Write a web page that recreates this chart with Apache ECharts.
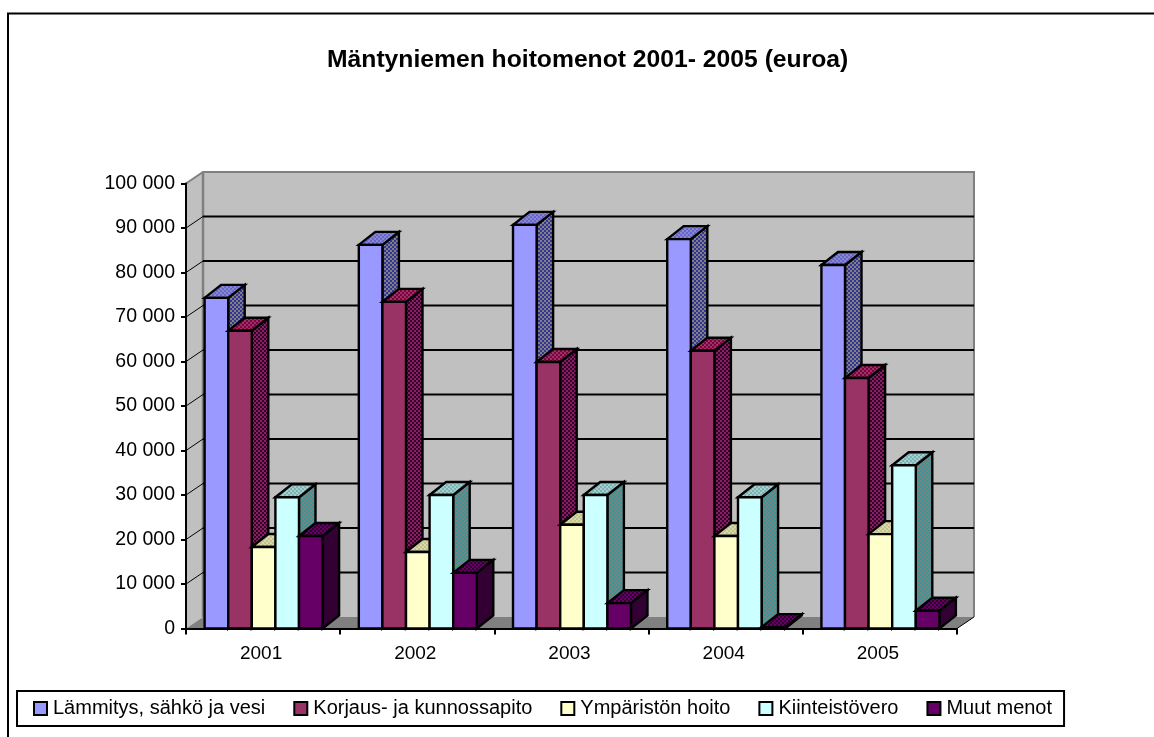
<!DOCTYPE html>
<html><head><meta charset="utf-8">
<style>html,body{margin:0;padding:0;background:#fff;overflow:hidden}#c{width:1154px;height:737px}</style>
<script src="https://cdn.jsdelivr.net/npm/echarts@6/dist/echarts.min.js"></script>
</head><body><div id="c"></div>
<script>
var years = ['2001','2002','2003','2004','2005'];
var lammitys = [74300,86200,90700,87500,81700];
var korjaus = [66900,73400,59900,62400,56300];
var ymparisto = [18300,17200,23300,20800,21200];
var kiinteisto = [29500,30000,30000,29500,36700];
var muut = [20800,12500,5700,300,4000];
var names = ['Lämmitys, sähkö ja vesi','Korjaus- ja kunnossapito','Ympäristön hoito','Kiinteistövero','Muut menot'];
var valueTicks = [10000,20000,30000,40000,50000,60000,70000,80000,90000];
var title = 'Mäntyniemen hoitomenot 2001- 2005 (euroa)';

var DX = 16.5, DY = -13, WDX = 17, WDY = -11.5;
var BAR = 0.153;
var font = '"Liberation Sans", Arial, sans-serif';

function checker(a, b, s) {
  var cv = document.createElement('canvas');
  cv.width = cv.height = 2 * s;
  var g = cv.getContext('2d');
  g.fillStyle = a; g.fillRect(0, 0, 2 * s, 2 * s);
  g.fillStyle = b; g.fillRect(0, 0, s, s); g.fillRect(s, s, s, s);
  return { image: cv, repeat: 'repeat' };
}
var palette = [
  { front: '#9999FF', top: checker('#6666CC', '#8888CC', 2), side: checker('#333399', '#808080', 2) },
  { front: '#993366', top: checker('#800040', '#993366', 2), side: checker('#330033', '#8A2058', 2) },
  { front: '#FFFFCC', top: checker('#C0C090', '#D8D8A8', 2), side: checker('#808060', '#C0C090', 2) },
  { front: '#CCFFFF', top: checker('#80B0B0', '#A0D0D0', 2), side: checker('#339999', '#808080', 2) },
  { front: '#660066', top: checker('#660066', '#330033', 2), side: '#330033' }
];

function poly(points, fill, lw) {
  return { type: 'polygon', shape: { points: points },
    style: { fill: fill, stroke: '#000', lineWidth: lw === undefined ? 2.4 : lw } };
}
function barSeries(idx, values) {
  return {
    type: 'custom', name: names[idx], z: 3 + idx, clip: false,
    itemStyle: { color: palette[idx].front, borderColor: '#000', borderWidth: 2 },
    encode: { x: 0, y: 1 },
    data: values.map(function (v, i) { return [i, v]; }),
    renderItem: function (params, api) {
      var top = api.coord([api.value(0), api.value(1)]);
      var base = api.coord([api.value(0), 0]);
      var band = api.size([1, 0])[0];
      var w = band * BAR;
      var x0 = top[0] - 2.5 * w + idx * w + 0.5;
      var x1 = x0 + w, y0 = top[1], y1 = base[1];
      return { type: 'group', children: [
        poly([[x1, y0], [x1 + DX, y0 + DY], [x1 + DX, y1 + DY], [x1, y1]], palette[idx].side),
        poly([[x0, y0], [x0 + DX, y0 + DY], [x1 + DX, y0 + DY], [x1, y0]], palette[idx].top),
        poly([[x0, y0], [x1, y0], [x1, y1], [x0, y1]], palette[idx].front)
      ] };
    }
  };
}
var wallSeries = {
  type: 'custom', z: -1, silent: true, clip: false, encode: { x: 0, y: 1 },
  data: [[0, 0]],
  renderItem: function (params, api) {
    var cs = params.coordSys, l = cs.x, t = cs.y, r = cs.x + cs.width, b = cs.y + cs.height;
    var ch = [
      { type: 'polygon', shape: { points: [[l, t], [l + WDX, t + WDY], [r + WDX, t + WDY], [r + WDX, b + WDY], [l + WDX, b + WDY], [l, b]] },
        style: { fill: '#C0C0C0' } },
      { type: 'polygon', shape: { points: [[l, b], [l + WDX, b + WDY], [r + WDX, b + WDY], [r, b]] },
        style: { fill: '#808080' } },
      { type: 'polyline', shape: { points: [[l, t], [l + WDX, t + WDY], [r + WDX, t + WDY], [r + WDX, b + WDY]] },
        style: { fill: 'none', stroke: '#808080', lineWidth: 2 } },
      { type: 'line', shape: { x1: l + WDX, y1: t + WDY, x2: l + WDX, y2: b + WDY },
        style: { stroke: '#808080', lineWidth: 2.5 } },
      { type: 'line', shape: { x1: r, y1: b, x2: r + WDX, y2: b + WDY }, style: { stroke: '#000', lineWidth: 1 } }
    ];
    valueTicks.forEach(function (v) {
      var y = api.coord([0, v])[1];
      ch.push({ type: 'line', shape: { x1: l, y1: y, x2: l + WDX, y2: y + WDY },
        style: { stroke: '#000', lineWidth: 1 } });
      ch.push({ type: 'line', shape: { x1: l + WDX, y1: y + WDY, x2: r + WDX, y2: y + WDY },
        style: { stroke: '#000', lineWidth: 2 } });
    });
    return { type: 'group', children: ch };
  }
};

var chart = echarts.init(document.getElementById('c'), null, { renderer: 'canvas' });
chart.setOption({
  animation: false,
  backgroundColor: '#fff',
  textStyle: { fontFamily: font },
  title: { text: title, left: 327, top: 48, padding: 0,
    textStyle: { fontFamily: font, fontSize: 24.7, fontWeight: 'bold', color: '#000' } },
  legend: {
    data: names, left: 17, top: 691, orient: 'horizontal',
    padding: [7.5, 12, 7.5, 16], itemGap: 28, itemWidth: 13, itemHeight: 13, icon: 'rect',
    borderColor: '#000', borderWidth: 2, backgroundColor: '#fff',
    selectedMode: false,
    textStyle: { fontFamily: font, fontSize: 20, color: '#000', padding: [0, 0, 0, 1] }
  },
  grid: { left: 186, top: 183.5, width: 771, height: 445, containLabel: false },
  xAxis: {
    type: 'category', data: years,
    axisLine: { lineStyle: { color: '#000', width: 2 } },
    axisTick: { show: true, alignWithLabel: false, length: 6, lineStyle: { color: '#000', width: 2 } },
    axisLabel: { color: '#000', fontFamily: font, fontSize: 19, margin: 16, padding: [0, 4, 0, 0] }
  },
  yAxis: {
    type: 'value', min: 0, max: 100000, interval: 10000,
    axisLine: { show: true, lineStyle: { color: '#000', width: 2 } },
    axisTick: { show: true, length: 5, lineStyle: { color: '#000', width: 2 } },
    splitLine: { show: false },
    axisLabel: { color: '#000', fontFamily: font, fontSize: 19.5, margin: 11,
      formatter: function (v) { return v === 0 ? '0' : String(v).replace(/(\d)(\d{3})$/, '$1 $2'); } }
  },
  graphic: [{ type: 'polyline', silent: true,
    shape: { points: [[8, 737], [8, 13.5], [1154, 13.5]] },
    style: { fill: 'none', stroke: '#000', lineWidth: 2 } }],
  series: [wallSeries,
    barSeries(0, lammitys), barSeries(1, korjaus), barSeries(2, ymparisto), barSeries(3, kiinteisto), barSeries(4, muut)]
});
</script></body></html>
